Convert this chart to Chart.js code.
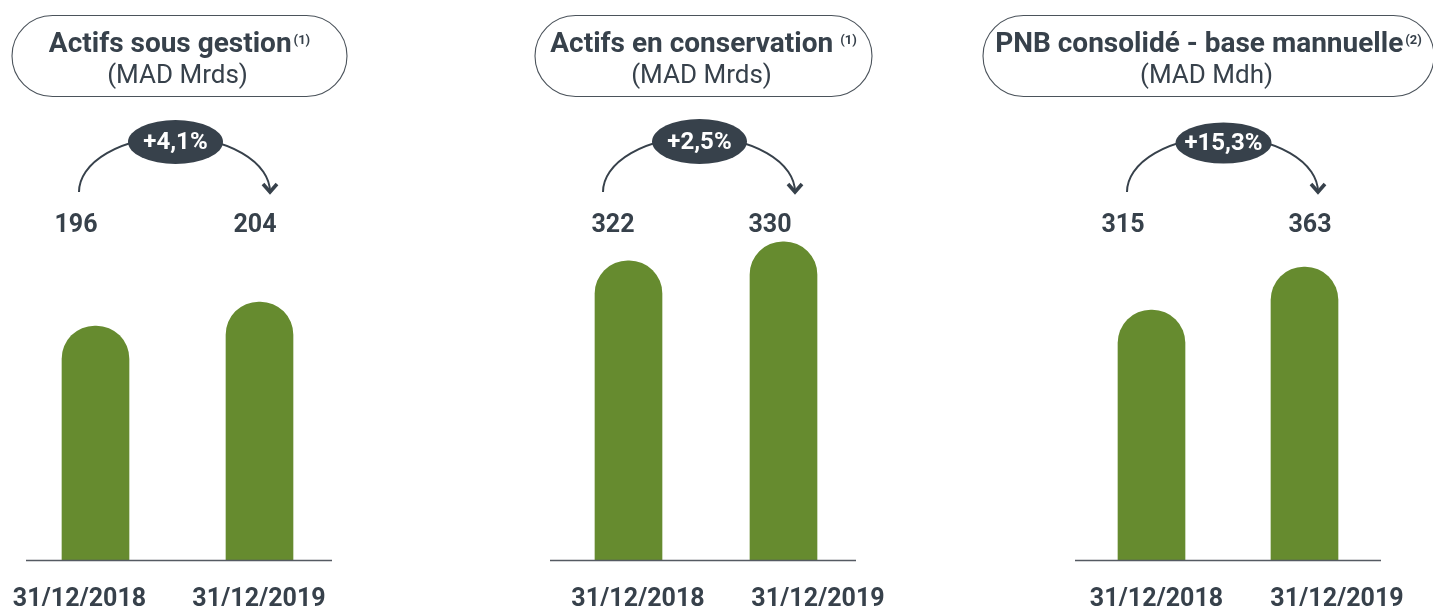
<!DOCTYPE html>
<html>
<head>
<meta charset="utf-8">
<script src="https://cdn.jsdelivr.net/npm/chart.js@4.4.1/dist/chart.umd.min.js"></script>
<style>
  html, body { margin: 0; padding: 0; background: #ffffff; overflow: hidden; }
  #wrap { position: relative; width: 1433px; height: 606px; }
  #wrap canvas { position: absolute; left: 0; top: 0; }
</style>
</head>
<body>
<div id="wrap">
  <canvas id="c0" width="1433" height="606"></canvas>
  <canvas id="c1" width="1433" height="606"></canvas>
  <canvas id="c2" width="1433" height="606"></canvas>
</div>
<script>
// ---------- DATA ----------
const categories = ['31/12/2018', '31/12/2019'];
const titles = ['Actifs sous gestion', 'Actifs en conservation', 'PNB consolidé - base mannuelle'];
const titleNotes = ['(1)', '(1)', '(2)'];
const units = ['(MAD Mrds)', '(MAD Mrds)', '(MAD Mdh)'];
const assetsUnderManagement = [196, 204];
const assetsInCustody = [322, 330];
const consolidatedNBI = [315, 363];
const growthLabels = ['+4,1%', '+2,5%', '+15,3%'];

const seriesList = [assetsUnderManagement, assetsInCustody, consolidatedNBI];

// ---------- LAYOUT / STYLE ----------
const W = 1433, H = 606;
const DARK = '#37414b';
const GREEN = '#668b2f';
const FONT = 'Roboto, "Liberation Sans", sans-serif';

const panels = [
  { area: [13.5, 341.5], yMin: 118, yMax: 238, noteSep: 2,
    box: [12, 347], arc: [79, 270], pill: [175.5, 142, 47.5, 22],
    valueX: [76, 255], labelX: [79.5, 259], base: [26, 332] },
  { area: [551, 861], yMin: 196, yMax: 347.6, noteSep: 7,
    box: [535, 872], arc: [603, 795], pill: [699.5, 141.5, 47.5, 22.5],
    valueX: [613, 770], labelX: [638, 818], base: [550, 856] },
  { area: [1075, 1381], yMin: 36, yMax: 437.9, noteSep: 2,
    box: [983, 1434], arc: [1127, 1318], pill: [1223.5, 143, 48, 20.5],
    valueX: [1123, 1310], labelX: [1156.5, 1337], base: [1075, 1381] }
];

function roundRect(ctx, x1, y1, x2, y2, r) {
  ctx.beginPath();
  ctx.moveTo(x1 + r, y1);
  ctx.lineTo(x2 - r, y1);
  ctx.arc(x2 - r, y1 + r, r, -Math.PI / 2, Math.PI / 2);
  ctx.lineTo(x1 + r, y2);
  ctx.arc(x1 + r, y1 + r, r, Math.PI / 2, Math.PI * 1.5);
  ctx.closePath();
}

function makeDecor(i) {
  return {
    id: 'decor' + i,
    afterDraw(chart) {
      const p = panels[i];
      const ctx = chart.ctx;
      ctx.save();

      // Title box
      ctx.strokeStyle = '#4b535b';
      ctx.lineWidth = 1.1;
      roundRect(ctx, p.box[0], 15.5, p.box[1], 96.5, 40.5);
      ctx.stroke();

      // Title + superscript note
      const cx = (p.box[0] + p.box[1]) / 2;
      ctx.fillStyle = DARK;
      ctx.textBaseline = 'alphabetic';
      ctx.font = 'bold 28px ' + FONT;
      const tw = ctx.measureText(titles[i]).width;
      ctx.font = 'bold 13px ' + FONT;
      const nw = ctx.measureText(titleNotes[i]).width;
      const total = tw + p.noteSep + nw;
      const x0 = cx - total / 2;
      ctx.textAlign = 'left';
      ctx.font = 'bold 28px ' + FONT;
      ctx.fillText(titles[i], x0, 52);
      ctx.font = 'bold 13px ' + FONT;
      ctx.fillText(titleNotes[i], x0 + tw + p.noteSep, 44);

      // Unit line
      ctx.textAlign = 'center';
      ctx.font = '26px ' + FONT;
      ctx.fillText(units[i], cx - 2, 83);

      // Growth arc
      const L = p.arc[0], R = p.arc[1];
      const acx = (L + R) / 2, arx = (R - L) / 2, acy = 192, ary = 55;
      ctx.strokeStyle = DARK;
      ctx.lineWidth = 2;
      ctx.beginPath();
      ctx.ellipse(acx, acy, arx, ary, 0, Math.PI, 2 * Math.PI);
      ctx.stroke();
      // Arrow head
      ctx.lineWidth = 3.6;
      ctx.lineJoin = 'miter';
      ctx.beginPath();
      ctx.moveTo(R - 7, 184);
      ctx.lineTo(R, 192);
      ctx.lineTo(R + 7, 184);
      ctx.stroke();

      // Pill
      ctx.fillStyle = DARK;
      ctx.beginPath();
      ctx.ellipse(p.pill[0], p.pill[1], p.pill[2], p.pill[3], 0, 0, 2 * Math.PI);
      ctx.fill();
      ctx.fillStyle = '#ffffff';
      ctx.font = 'bold 24px ' + FONT;
      ctx.textAlign = 'center';
      ctx.textBaseline = 'middle';
      ctx.fillText(growthLabels[i], p.pill[0], p.pill[1] + 1);

      // Value labels
      ctx.fillStyle = DARK;
      ctx.textBaseline = 'alphabetic';
      ctx.font = 'bold 25px ' + FONT;
      const data = chart.data.datasets[0].data;
      data.forEach((v, k) => ctx.fillText(String(v), p.valueX[k], 232));

      // Baseline
      ctx.strokeStyle = '#555a62';
      ctx.lineWidth = 1.5;
      ctx.beginPath();
      ctx.moveTo(p.base[0], chart.chartArea.bottom + 0.5);
      ctx.lineTo(p.base[1], chart.chartArea.bottom + 0.5);
      ctx.stroke();

      // Category labels
      ctx.fillStyle = DARK;
      ctx.font = 'bold 25px ' + FONT;
      chart.data.labels.forEach((lab, k) => ctx.fillText(lab, p.labelX[k], 606));

      ctx.restore();
    }
  };
}

panels.forEach((p, i) => {
  new Chart(document.getElementById('c' + i), {
    type: 'bar',
    data: {
      labels: categories,
      datasets: [{
        data: seriesList[i],
        backgroundColor: GREEN,
        borderWidth: 0,
        barThickness: 67,
        borderRadius: { topLeft: 33, topRight: 33, bottomLeft: 0, bottomRight: 0 },
        borderSkipped: 'bottom'
      }]
    },
    options: {
      responsive: false,
      animation: false,
      devicePixelRatio: 1,
      layout: { padding: { left: p.area[0], right: W - p.area[1], top: 200, bottom: H - 560 } },
      plugins: { legend: { display: false }, tooltip: { enabled: false } },
      scales: {
        x: { type: 'category', display: false, offset: true, grid: { display: false } },
        y: { display: false, min: p.yMin, max: p.yMax, grid: { display: false } }
      }
    },
    plugins: [makeDecor(i)]
  });
});
</script>
</body>
</html>
